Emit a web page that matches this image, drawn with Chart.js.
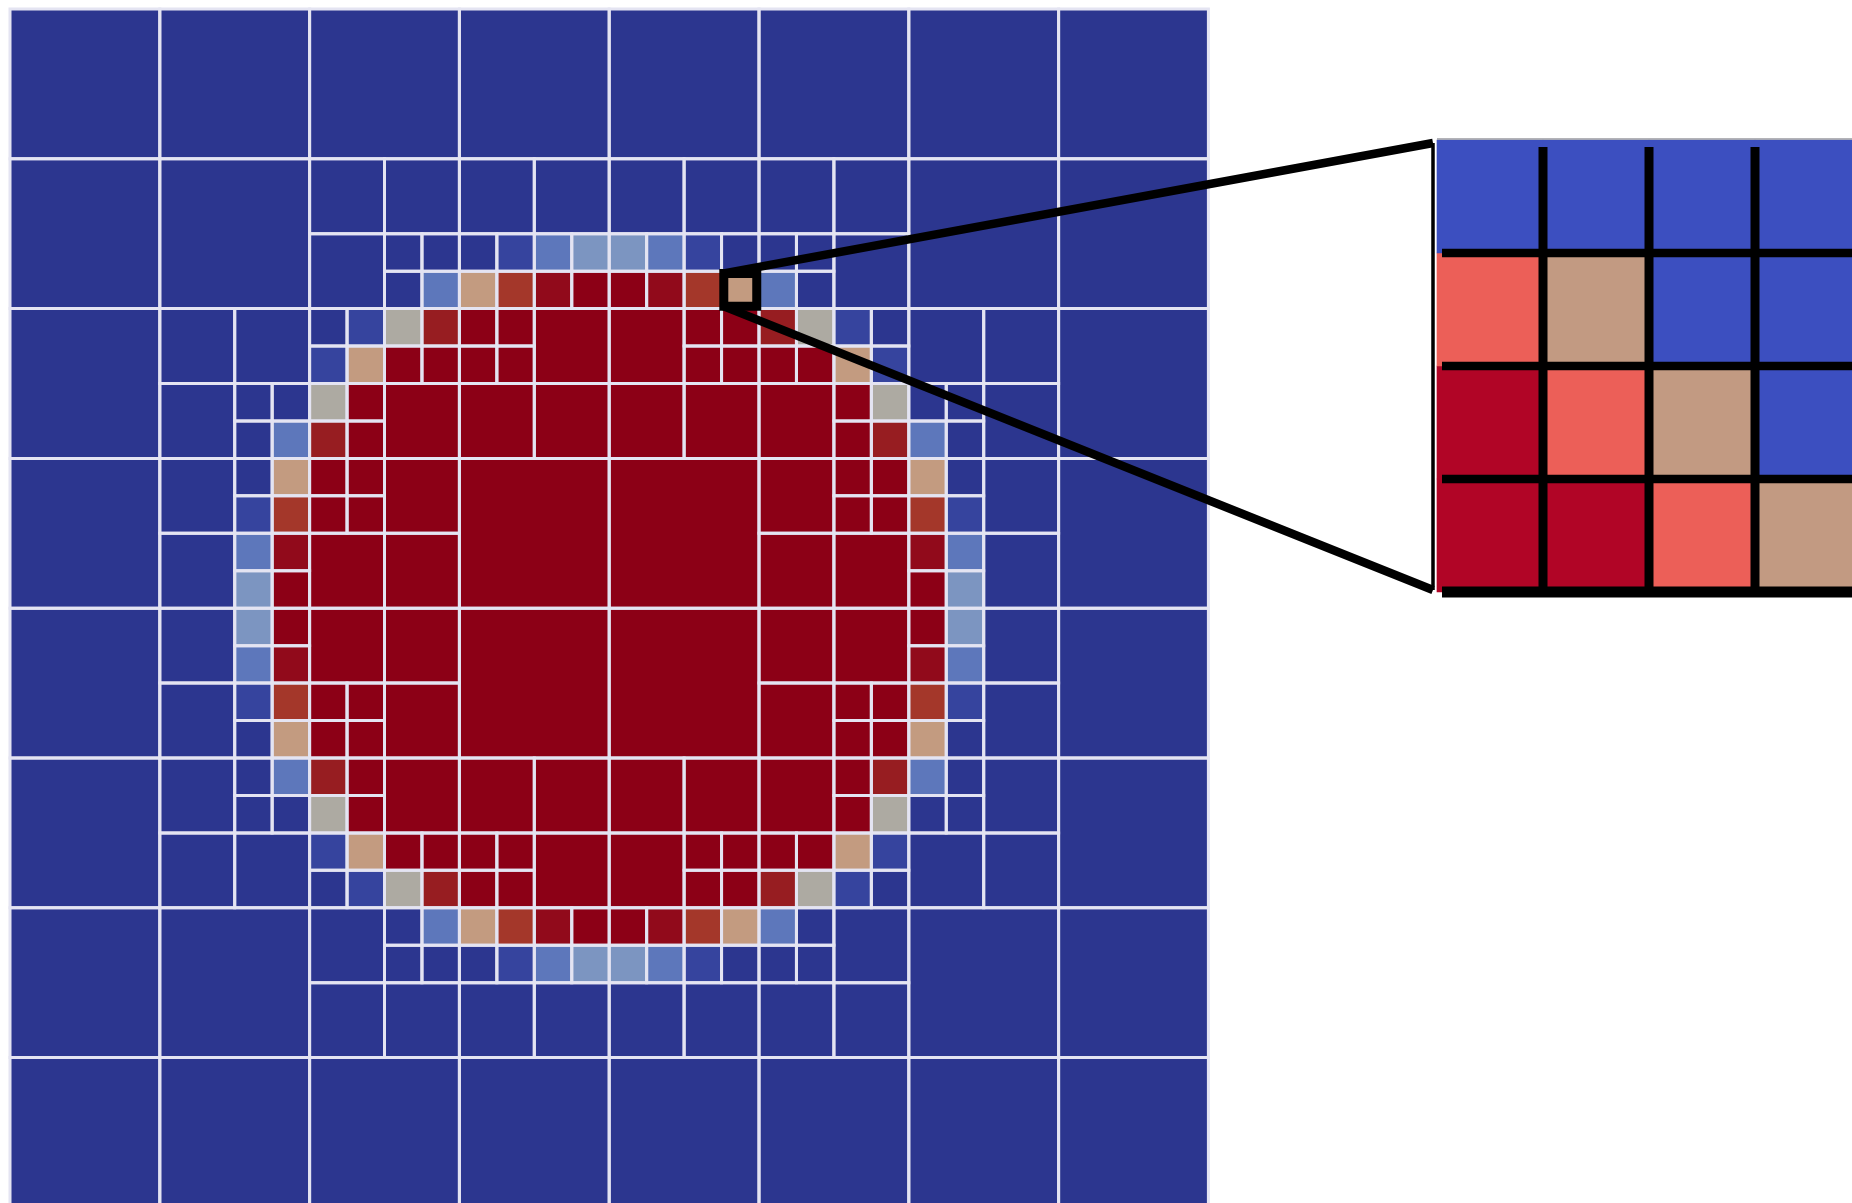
<!DOCTYPE html>
<html lang="en">
<head>
  <meta charset="UTF-8">
  <title>Refined mesh with a magnified cell</title>
  <style>
    body{margin:0;background:#fff}
    canvas{display:block}
  </style>
  <script src="https://cdn.jsdelivr.net/npm/chart.js"></script>
</head>
<body>
  <canvas id="mesh" width="1852" height="1203"></canvas>
  <script>
    // refinement of each 2x2 block of finest cells:
    // C = part of a coarse 4x4 cell, M = one medium 2x2 cell, F = four finest cells
    const blockLevels = [
      'CCCCCCCCCCCCCCCC',
      'CCCCCCCCCCCCCCCC',
      'CCCCMMMMMMMMCCCC',
      'CCCCMFFFFFFMCCCC',
      'CCMMFFFMMFFFMMCC',
      'CCMFFMMMMMMFFMCC',
      'CCMFFMCCCCMFFMCC',
      'CCMFMMCCCCMMFMCC',
      'CCMFMMCCCCMMFMCC',
      'CCMFFMCCCCMFFMCC',
      'CCMFFMMMMMMFFMCC',
      'CCMMFFFMMFFFMMCC',
      'CCCCMFFFFFFMCCCC',
      'CCCCMMMMMMMMCCCC',
      'CCCCCCCCCCCCCCCC',
      'CCCCCCCCCCCCCCCC'
    ];

    // value class of every finest cell, 32 x 32 (a refined cell takes the class of its top-left corner)
    const cellClasses = [
      'DDDD DDDD DDDD DDDD DDDD DDDD DDDD DDDD',
      'DDDD DDDD DDDD DDDD DDDD DDDD DDDD DDDD',
      'DDDD DDDD DDDD DDDD DDDD DDDD DDDD DDDD',
      'DDDD DDDD DDDD DDDD DDDD DDDD DDDD DDDD',
      'DDDD DDDD DDDD DDDD DDDD DDDD DDDD DDDD',
      'DDDD DDDD DDDD DDDD DDDD DDDD DDDD DDDD',
      'DDDD DDDD DDDD Dbml lmbD DDDD DDDD DDDD',
      'DDDD DDDD DDDm torR Rrot mDDD DDDD DDDD',
      'DDDD DDDD Dbgk RRRR RRRR kgbD DDDD DDDD',
      'DDDD DDDD btRR RRRR RRRR RRtb DDDD DDDD',
      'DDDD DDDD gRRR RRRR RRRR RRRg DDDD DDDD',
      'DDDD DDDm kRRR RRRR RRRR RRRk mDDD DDDD',
      'DDDD DDDt RRRR RRRR RRRR RRRR tDDD DDDD',
      'DDDD DDbo RRRR RRRR RRRR RRRR obDD DDDD',
      'DDDD DDmr RRRR RRRR RRRR RRRR rmDD DDDD',
      'DDDD DDlR RRRR RRRR RRRR RRRR RlDD DDDD',
      'DDDD DDlR RRRR RRRR RRRR RRRR RlDD DDDD',
      'DDDD DDmr RRRR RRRR RRRR RRRR rmDD DDDD',
      'DDDD DDbo RRRR RRRR RRRR RRRR obDD DDDD',
      'DDDD DDDt RRRR RRRR RRRR RRRR tDDD DDDD',
      'DDDD DDDm kRRR RRRR RRRR RRRk mDDD DDDD',
      'DDDD DDDD gRRR RRRR RRRR RRRg DDDD DDDD',
      'DDDD DDDD btRR RRRR RRRR RRtb DDDD DDDD',
      'DDDD DDDD Dbgk RRRR RRRR kgbD DDDD DDDD',
      'DDDD DDDD DDDm torR Rrot mDDD DDDD DDDD',
      'DDDD DDDD DDDD Dbml lmbD DDDD DDDD DDDD',
      'DDDD DDDD DDDD DDDD DDDD DDDD DDDD DDDD',
      'DDDD DDDD DDDD DDDD DDDD DDDD DDDD DDDD',
      'DDDD DDDD DDDD DDDD DDDD DDDD DDDD DDDD',
      'DDDD DDDD DDDD DDDD DDDD DDDD DDDD DDDD',
      'DDDD DDDD DDDD DDDD DDDD DDDD DDDD DDDD',
      'DDDD DDDD DDDD DDDD DDDD DDDD DDDD DDDD'
    ];

    const classColours = {
      D: '#2c368f', b: '#36449e', m: '#5d77bb', l: '#7c95c1', g: '#adaaa2',
      t: '#c39b80', o: '#a4372a', k: '#971d21', r: '#910a1b', R: '#8c0016'
    };

    // the finest cell that is magnified: [column, row]
    const zoomedCell = [19, 7];

    // magnified sub cells, row by row (the right part is cut by the page edge)
    const insetClasses = ['BBBB', 'STBB', 'CSTB', 'CCST'];
    const insetColours = { B: '#3c4fc0', S: '#ec5f58', T: '#c29a82', C: '#b10526' };

    // ---- layout (pixels) ----
    const W = 1852, H = 1203;
    const PAD = { left: 10, top: 9 };
    const UNIT = 37.45;                       // px per finest cell
    const INSET = { left: 1437, top: 140, cellW: 106, cellH: 113 };
    const ux = px => (px - PAD.left) / UNIT;
    const uy = py => (py - PAD.top) / UNIT;

    // ---- build mesh cells ----
    const rows = cellClasses.map(s => s.replace(/ /g, ''));
    const classAt = (c, r) => rows[r][c];
    const cells = [];
    blockLevels.forEach((line, br) => [...line].forEach((lv, bc) => {
      const c = bc * 2, r = br * 2;
      if (lv === 'F') {
        for (let dy = 0; dy < 2; dy++)
          for (let dx = 0; dx < 2; dx++)
            cells.push({ x: c + dx + 0.5, y: r + dy + 0.5, s: 1, k: classAt(c + dx, r + dy) });
      } else if (lv === 'M') {
        cells.push({ x: c + 1, y: r + 1, s: 2, k: classAt(c, r) });
      } else if (br % 2 === 0 && bc % 2 === 0) {
        cells.push({ x: c + 2, y: r + 2, s: 4, k: classAt(c, r) });
      }
    }));

    // rect point radius so that the square is exactly s cells wide
    const cellRadius = ctx => {
      const xs = ctx.chart.scales.x;
      const s = ctx.raw ? ctx.raw.s : 0;
      const px = Math.abs(xs.getPixelForValue(s) - xs.getPixelForValue(0));
      return isFinite(px) ? px / 2 * Math.SQRT2 : 0;
    };

    const GAP = { x: null, y: null };
    const segments = pairs => {
      const out = [];
      pairs.forEach((p, i) => {
        if (i) out.push(GAP);
        out.push({ x: p[0], y: p[1] }, { x: p[2], y: p[3] });
      });
      return out;
    };
    const lineSet = (data, width, colour, order, extra) => Object.assign({
      type: 'line', data, borderColor: colour, borderWidth: width, pointRadius: 0,
      fill: false, tension: 0, spanGaps: false, showLine: true, order
    }, extra || {});

    // ---- inset ----
    const insetBottom = INSET.top + insetClasses.length * INSET.cellH;
    const insetBars = insetClasses.map((row, ri) => ({
      type: 'bar', order: 2, grouped: false, categoryPercentage: 1, barPercentage: 1, borderWidth: 0,
      data: [...row].map((k, ci) => ({
        x: ux(INSET.left + (ci + 0.5) * INSET.cellW),
        y: [uy(INSET.top + ri * INSET.cellH), uy(INSET.top + (ri + 1) * INSET.cellH)]
      })),
      backgroundColor: [...row].map(k => insetColours[k])
    }));

    const vLines = [1, 2, 3].map(k => {
      const x = ux(INSET.left + k * INSET.cellW);
      return [x, uy(INSET.top + 7), x, uy(insetBottom)];
    });
    const hLines = [1, 2, 3].map(k => {
      const y = uy(INSET.top + k * INSET.cellH);
      return [ux(INSET.left + 5), y, ux(W + 20), y];
    });

    // ---- zoom box and connectors ----
    const [zc, zr] = zoomedCell;
    const e = 0.06;
    const box = [
      { x: zc + e, y: zr + e }, { x: zc + 1 - e, y: zr + e }, { x: zc + 1 - e, y: zr + 1 - e },
      { x: zc + e, y: zr + 1 - e }, { x: zc + e, y: zr + e }
    ];
    const anchorX = ux(INSET.left - 4);
    const connectors = [
      [zc + e, zr + e, anchorX, uy(INSET.top + 3)],
      [zc + e, zr + 1 - e, anchorX, uy(insetBottom - 2)]
    ];

    new Chart(document.getElementById('mesh'), {
      type: 'scatter',
      data: {
        datasets: [
          {
            data: cells, order: 4, clip: false,
            pointStyle: 'rect', pointRadius: cellRadius, pointHoverRadius: 0,
            pointBackgroundColor: ctx => ctx.raw ? classColours[ctx.raw.k] : 'transparent',
            pointBorderWidth: 0
          },
          {
            data: cells, order: 3, clip: false,
            pointStyle: 'rect', pointRadius: cellRadius, pointHoverRadius: 0,
            pointBackgroundColor: 'rgba(0,0,0,0)',
            pointBorderColor: '#e4e4f2', pointBorderWidth: 3
          },
          ...insetBars,
          lineSet(segments([[ux(INSET.left), uy(INSET.top - 1), ux(W + 20), uy(INSET.top - 1)]]), 1.5, '#9a9aa0', 1),
          lineSet(segments(vLines), 9, '#000', 1),
          lineSet(segments(hLines), 8.5, '#000', 1),
          lineSet(segments([[ux(INSET.left + 5), uy(insetBottom), ux(W + 20), uy(insetBottom)]]), 11, '#000', 1),
          lineSet(segments([[anchorX, uy(INSET.top + 3), anchorX, uy(insetBottom - 2)]]), 3.5, '#000', 1),
          lineSet(segments(connectors), 8.5, '#000', 0),
          lineSet(box, 9, '#000', 0, { borderJoinStyle: 'miter', borderCapStyle: 'square' })
        ]
      },
      options: {
        responsive: false,
        devicePixelRatio: 1,
        animation: false,
        events: [],
        layout: { autoPadding: false, padding: { left: PAD.left, top: PAD.top, right: 0, bottom: 0 } },
        scales: {
          x: {
            type: 'linear', display: false, offset: false, min: 0, max: ux(W),
            ticks: { stepSize: 1000 }, grid: { offset: false }
          },
          y: {
            type: 'linear', display: false, offset: false, reverse: true, min: 0, max: uy(H),
            ticks: { stepSize: 1000 }, grid: { offset: false }
          }
        },
        plugins: { legend: { display: false }, tooltip: { enabled: false } }
      }
    });
  </script>
</body>
</html>
